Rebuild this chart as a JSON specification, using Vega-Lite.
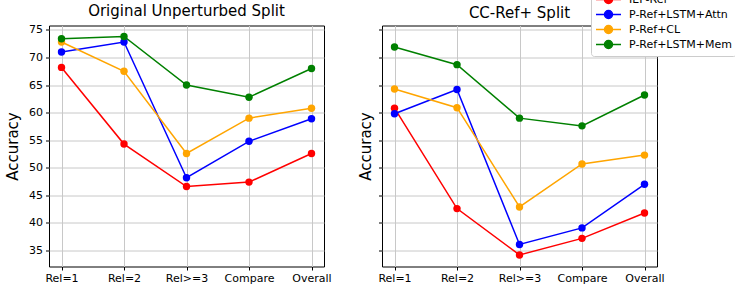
{
  "$schema": "https://vega.github.io/schema/vega-lite/v6.json",
  "autosize": {"type": "pad"},
  "padding": {"left": 5, "top": -12.5, "right": 0, "bottom": 0},
  "background": "white",
  "config": {
    "font": "DejaVu Sans",
    "view": {"stroke": "black", "strokeWidth": 1},
    "axis": {
      "labelFont": "DejaVu Sans", "labelFontSize": 11, "labelColor": "#000",
      "titleFont": "DejaVu Sans", "titleFontSize": 15, "titleFontWeight": "normal", "titleColor": "#000",
      "gridColor": "#c8c8c8", "gridWidth": 1, "tickColor": "#000", "tickSize": 3.5, "domain": false
    },
    "title": {"font": "DejaVu Sans", "fontSize": 15, "fontWeight": "normal", "color": "#000", "offset": 5},
    "concat": {"spacing": 25}
  },
  "data": {"values": [
    {"panel": "orig", "cat": "Rel=1", "model": "IEP-Ref", "acc": 68.2},
    {"panel": "orig", "cat": "Rel=2", "model": "IEP-Ref", "acc": 54.3},
    {"panel": "orig", "cat": "Rel>=3", "model": "IEP-Ref", "acc": 46.6},
    {"panel": "orig", "cat": "Compare", "model": "IEP-Ref", "acc": 47.4},
    {"panel": "orig", "cat": "Overall", "model": "IEP-Ref", "acc": 52.6},
    {"panel": "orig", "cat": "Rel=1", "model": "P-Ref+LSTM+Attn", "acc": 71.0},
    {"panel": "orig", "cat": "Rel=2", "model": "P-Ref+LSTM+Attn", "acc": 72.8},
    {"panel": "orig", "cat": "Rel>=3", "model": "P-Ref+LSTM+Attn", "acc": 48.2},
    {"panel": "orig", "cat": "Compare", "model": "P-Ref+LSTM+Attn", "acc": 54.8},
    {"panel": "orig", "cat": "Overall", "model": "P-Ref+LSTM+Attn", "acc": 58.9},
    {"panel": "orig", "cat": "Rel=1", "model": "P-Ref+CL", "acc": 72.8},
    {"panel": "orig", "cat": "Rel=2", "model": "P-Ref+CL", "acc": 67.5},
    {"panel": "orig", "cat": "Rel>=3", "model": "P-Ref+CL", "acc": 52.6},
    {"panel": "orig", "cat": "Compare", "model": "P-Ref+CL", "acc": 59.0},
    {"panel": "orig", "cat": "Overall", "model": "P-Ref+CL", "acc": 60.8},
    {"panel": "orig", "cat": "Rel=1", "model": "P-Ref+LSTM+Mem", "acc": 73.4},
    {"panel": "orig", "cat": "Rel=2", "model": "P-Ref+LSTM+Mem", "acc": 73.8},
    {"panel": "orig", "cat": "Rel>=3", "model": "P-Ref+LSTM+Mem", "acc": 65.0},
    {"panel": "orig", "cat": "Compare", "model": "P-Ref+LSTM+Mem", "acc": 62.8},
    {"panel": "orig", "cat": "Overall", "model": "P-Ref+LSTM+Mem", "acc": 68.0},
    {"panel": "cc", "cat": "Rel=1", "model": "IEP-Ref", "acc": 60.8},
    {"panel": "cc", "cat": "Rel=2", "model": "IEP-Ref", "acc": 42.6},
    {"panel": "cc", "cat": "Rel>=3", "model": "IEP-Ref", "acc": 34.2},
    {"panel": "cc", "cat": "Compare", "model": "IEP-Ref", "acc": 37.2},
    {"panel": "cc", "cat": "Overall", "model": "IEP-Ref", "acc": 41.8},
    {"panel": "cc", "cat": "Rel=1", "model": "P-Ref+LSTM+Attn", "acc": 59.8},
    {"panel": "cc", "cat": "Rel=2", "model": "P-Ref+LSTM+Attn", "acc": 64.2},
    {"panel": "cc", "cat": "Rel>=3", "model": "P-Ref+LSTM+Attn", "acc": 36.1},
    {"panel": "cc", "cat": "Compare", "model": "P-Ref+LSTM+Attn", "acc": 39.1},
    {"panel": "cc", "cat": "Overall", "model": "P-Ref+LSTM+Attn", "acc": 47.0},
    {"panel": "cc", "cat": "Rel=1", "model": "P-Ref+CL", "acc": 64.3},
    {"panel": "cc", "cat": "Rel=2", "model": "P-Ref+CL", "acc": 60.9},
    {"panel": "cc", "cat": "Rel>=3", "model": "P-Ref+CL", "acc": 42.9},
    {"panel": "cc", "cat": "Compare", "model": "P-Ref+CL", "acc": 50.7},
    {"panel": "cc", "cat": "Overall", "model": "P-Ref+CL", "acc": 52.3},
    {"panel": "cc", "cat": "Rel=1", "model": "P-Ref+LSTM+Mem", "acc": 71.9},
    {"panel": "cc", "cat": "Rel=2", "model": "P-Ref+LSTM+Mem", "acc": 68.7},
    {"panel": "cc", "cat": "Rel>=3", "model": "P-Ref+LSTM+Mem", "acc": 59.0},
    {"panel": "cc", "cat": "Compare", "model": "P-Ref+LSTM+Mem", "acc": 57.6},
    {"panel": "cc", "cat": "Overall", "model": "P-Ref+LSTM+Mem", "acc": 63.2}
  ]},
  "hconcat": [
    {
      "title": "Original Unperturbed Split",
      "width": 275, "height": 241,
      "transform": [{"filter": "datum.panel === 'orig'"}],
      "encoding": {
        "x": {"field": "cat", "type": "ordinal", "sort": ["Rel=1", "Rel=2", "Rel>=3", "Compare", "Overall"],
              "scale": {"type": "point", "padding": 0.2},
              "axis": {"title": null, "labelAngle": 0, "grid": true, "labelPadding": 2}},
        "y": {"field": "acc", "type": "quantitative",
              "scale": {"domain": [32.1, 75.8], "nice": false, "zero": false},
              "axis": {"title": "Accuracy", "values": [35, 40, 45, 50, 55, 60, 65, 70, 75], "labelPadding": 3, "titlePadding": 8}},
        "color": {"field": "model", "type": "nominal",
                  "sort": ["IEP-Ref", "P-Ref+LSTM+Attn", "P-Ref+CL", "P-Ref+LSTM+Mem"],
                  "scale": {"domain": ["IEP-Ref", "P-Ref+LSTM+Attn", "P-Ref+CL", "P-Ref+LSTM+Mem"], "range": ["#ff0000", "#0000ff", "#ffa500", "#008000"]},
                  "legend": {
                    "title": null, "orient": "none", "legendX": 542, "legendY": -37.5,
                    "symbolType": "M-1,0H1M-0.32,0A0.32,0.32,0,1,0,0.32,0A0.32,0.32,0,1,0,-0.32,0Z",
                    "symbolSize": 625, "symbolStrokeWidth": 1.5, "clipHeight": 15, "rowPadding": 0,
                    "labelFont": "DejaVu Sans", "labelFontSize": 11, "labelColor": "#000", "labelOffset": 7,
                    "padding": 4, "fillColor": "white", "strokeColor": "#cccccc", "cornerRadius": 3,
                    "encode": {"symbols": {"update": {"stroke": {"scale": "color", "field": "value"}, "fill": {"scale": "color", "field": "value"}}}}
                  }}
      },
      "layer": [
        {"mark": {"type": "line", "strokeWidth": 1.5}, "encoding": {"detail": {"field": "model"}}},
        {"mark": {"type": "point", "filled": true, "size": 55, "opacity": 1}}
      ]
    },
    {
      "title": "CC-Ref+ Split",
      "width": 275, "height": 241,
      "transform": [{"filter": "datum.panel === 'cc'"}],
      "encoding": {
        "x": {"field": "cat", "type": "ordinal", "sort": ["Rel=1", "Rel=2", "Rel>=3", "Compare", "Overall"],
              "scale": {"type": "point", "padding": 0.2},
              "axis": {"title": null, "labelAngle": 0, "grid": true, "labelPadding": 2}},
        "y": {"field": "acc", "type": "quantitative",
              "scale": {"domain": [32.1, 75.8], "nice": false, "zero": false},
              "axis": {"title": "Accuracy", "values": [35, 40, 45, 50, 55, 60, 65, 70, 75], "labels": false, "titlePadding": 5}},
        "color": {"field": "model", "type": "nominal",
                  "sort": ["IEP-Ref", "P-Ref+LSTM+Attn", "P-Ref+CL", "P-Ref+LSTM+Mem"],
                  "scale": {"domain": ["IEP-Ref", "P-Ref+LSTM+Attn", "P-Ref+CL", "P-Ref+LSTM+Mem"], "range": ["#ff0000", "#0000ff", "#ffa500", "#008000"]}}
      },
      "layer": [
        {"mark": {"type": "line", "strokeWidth": 1.5}, "encoding": {"detail": {"field": "model"}}},
        {"mark": {"type": "point", "filled": true, "size": 55, "opacity": 1}}
      ]
    }
  ]
}
